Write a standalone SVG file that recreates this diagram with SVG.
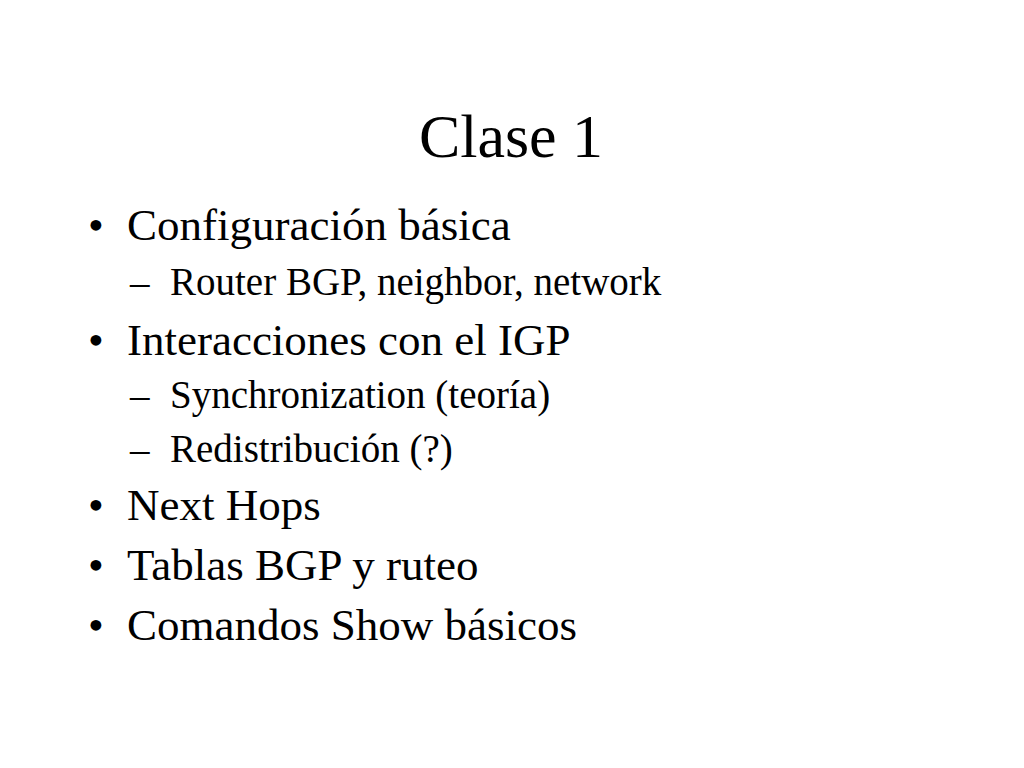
<svg xmlns="http://www.w3.org/2000/svg" width="1024" height="768" viewBox="0 0 1024 768">
<style>
text{font-family:"Liberation Serif","Times New Roman",serif;fill:#000}
.t{font-size:62px}
.b{font-size:45px}
.s{font-size:39px}
</style>
<rect width="1024" height="768" fill="#fff"/>
<text class="t" x="511" y="157" text-anchor="middle">Clase 1</text>
<g>
<text class="b" x="88" y="240">•</text><text class="b" x="127" y="240">Configuración básica</text>
<text class="s" x="130" y="295">–</text><text class="s" x="170" y="295">Router BGP, neighbor, network</text>
<text class="b" x="88" y="355">•</text><text class="b" x="127" y="355">Interacciones con el IGP</text>
<text class="s" x="130" y="408">–</text><text class="s" x="170" y="408">Synchronization (teoría)</text>
<text class="s" x="130" y="462">–</text><text class="s" x="170" y="462">Redistribución (?)</text>
<text class="b" x="88" y="520">•</text><text class="b" x="127" y="520">Next Hops</text>
<text class="b" x="88" y="580">•</text><text class="b" x="127" y="580">Tablas BGP y ruteo</text>
<text class="b" x="88" y="640">•</text><text class="b" x="127" y="640">Comandos Show básicos</text>
</g>
</svg>
